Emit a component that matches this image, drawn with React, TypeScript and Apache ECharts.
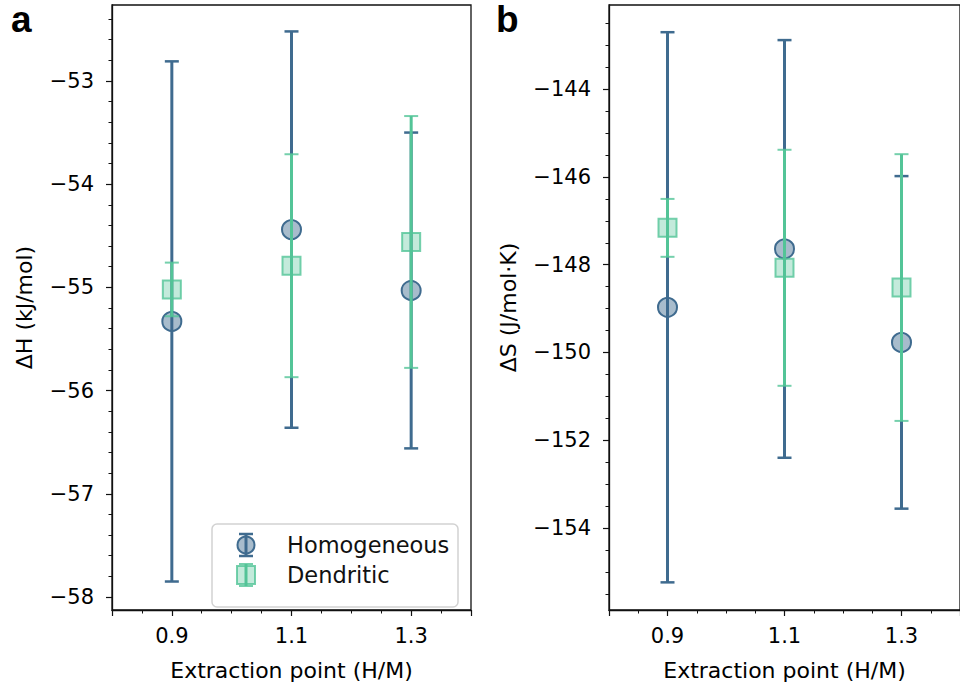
import React, { useEffect, useRef } from "react";
import * as echarts from "echarts";

// ---- data ----
const extraction = [0.9, 1.1, 1.3];
const dHHomogeneous = [-55.33, -54.44, -55.03];
const dHHomogeneousErr = [2.52, 1.92, 1.53];
const dHDendritic = [-55.02, -54.79, -54.56];
const dHDendriticErr = [0.26, 1.08, 1.22];
const dSHomogeneous = [-148.97, -147.64, -149.77];
const dSHomogeneousErr = [6.27, 4.76, 3.79];
const dSDendritic = [-147.16, -148.07, -148.52];
const dSDendriticErr = [0.66, 2.69, 3.04];

// ---- ticks ----
const xLabelTicks = [0.9, 1.1, 1.3];
const xMajorTicks = [0.8, 0.9, 1.1, 1.3, 1.4];
const dHMajorTicks = [-58, -57, -56, -55, -54, -53];
const dSMajorTicks = [-154, -152, -150, -148, -146, -144];

const X_RANGE = [0.8, 1.4];
const DH_RANGE = [-58.126, -52.264];
const DS_RANGE = [-155.87, -142.08];

const BLUE = "#3f6b8f";
const GREEN = "#53c497";
const FONT = "DejaVu Sans";

function stepTicks(lo: number, hi: number, step: number): number[] {
  const out: number[] = [];
  const start = Math.ceil(lo / step - 1e-9);
  const end = Math.floor(hi / step + 1e-9);
  for (let k = start; k <= end; k++) out.push(Math.round(k * step * 1000) / 1000);
  return out;
}

const fmt = (v: number) => (v < 0 ? "\u2212" + String(Math.abs(v)) : String(v));

function errRender(color: string, lw: number, capColor: string, capW: number) {
  return (params: any, api: any) => {
    const x = api.value(0);
    const y = api.value(1);
    const e = api.value(2);
    const t = api.coord([x, y + e]);
    const b = api.coord([x, y - e]);
    const hw = 7;
    return {
      type: "group",
      children: [
        { type: "line", shape: { x1: t[0], y1: t[1], x2: b[0], y2: b[1] }, style: { stroke: color, lineWidth: lw } },
        { type: "line", shape: { x1: t[0] - hw, y1: t[1], x2: t[0] + hw, y2: t[1] }, style: { stroke: capColor, lineWidth: capW } },
        { type: "line", shape: { x1: b[0] - hw, y1: b[1], x2: b[0] + hw, y2: b[1] }, style: { stroke: capColor, lineWidth: capW } },
      ],
    };
  };
}

function panelSeries(gridAxis: number, homo: number[], homoErr: number[], den: number[], denErr: number[]) {
  return [
    {
      type: "custom",
      name: "Homogeneous",
      xAxisIndex: gridAxis,
      yAxisIndex: gridAxis,
      renderItem: errRender(BLUE, 3, BLUE, 2.5),
      encode: { x: 0, y: 1 },
      data: extraction.map((x, i) => [x, homo[i], homoErr[i]]),
      z: 2,
    },
    {
      type: "scatter",
      name: "Homogeneous",
      xAxisIndex: gridAxis,
      yAxisIndex: gridAxis,
      symbol: "circle",
      symbolSize: 19,
      itemStyle: { color: "rgba(63,107,143,0.45)", borderColor: BLUE, borderWidth: 2, opacity: 1 },
      data: extraction.map((x, i) => [x, homo[i]]),
      z: 3,
    },
    {
      type: "custom",
      name: "Dendritic",
      xAxisIndex: gridAxis,
      yAxisIndex: gridAxis,
      renderItem: errRender(GREEN, 3, "rgba(83,196,151,0.8)", 2),
      encode: { x: 0, y: 1 },
      data: extraction.map((x, i) => [x, den[i], denErr[i]]),
      z: 4,
    },
    {
      type: "scatter",
      name: "Dendritic",
      xAxisIndex: gridAxis,
      yAxisIndex: gridAxis,
      symbol: "rect",
      symbolSize: 18,
      itemStyle: { color: "rgba(83,196,151,0.35)", borderColor: "rgba(83,196,151,0.8)", borderWidth: 2, opacity: 1 },
      data: extraction.map((x, i) => [x, den[i]]),
      z: 5,
    },
  ];
}

function majorX(gridIndex: number) {
  return {
    type: "value",
    gridIndex,
    min: X_RANGE[0],
    max: X_RANGE[1],
    name: "Extraction point (H/M)",
    nameLocation: "middle",
    nameGap: 49,
    nameTextStyle: { fontFamily: FONT, fontSize: 22, color: "#000" },
    axisLine: { show: true, lineStyle: { color: "#111", width: 1.3 } },
    axisTick: { show: true, customValues: xMajorTicks, length: 6, lineStyle: { color: "#111", width: 1.2 } },
    axisLabel: { show: true, customValues: xLabelTicks, formatter: fmt, margin: 15, fontFamily: FONT, fontSize: 21, color: "#000" },
    splitLine: { show: false },
  };
}
function minorX(gridIndex: number) {
  return {
    type: "value",
    gridIndex,
    min: X_RANGE[0],
    max: X_RANGE[1],
    axisLine: { show: false },
    axisTick: { show: true, customValues: stepTicks(X_RANGE[0], X_RANGE[1], 0.05), length: 3.5, lineStyle: { color: "#111", width: 1 } },
    axisLabel: { show: false },
    splitLine: { show: false },
  };
}
function majorY(gridIndex: number, range: number[], ticks: number[], name: string, nameGap: number) {
  return {
    type: "value",
    gridIndex,
    min: range[0],
    max: range[1],
    name,
    nameLocation: "middle",
    nameGap,
    nameTextStyle: { fontFamily: FONT, fontSize: 22, color: "#000" },
    axisLine: { show: true, lineStyle: { color: "#111", width: 1.3 } },
    axisTick: { show: true, customValues: ticks, length: 6, lineStyle: { color: "#111", width: 1.2 } },
    axisLabel: { show: true, customValues: ticks, formatter: fmt, margin: 18, fontFamily: FONT, fontSize: 21, color: "#000" },
    splitLine: { show: false },
  };
}
function minorY(gridIndex: number, range: number[], step: number) {
  return {
    type: "value",
    gridIndex,
    min: range[0],
    max: range[1],
    axisLine: { show: false },
    axisTick: { show: true, customValues: stepTicks(range[0], range[1], step), length: 3.5, lineStyle: { color: "#111", width: 1 } },
    axisLabel: { show: false },
    splitLine: { show: false },
  };
}

function legendGraphic() {
  const x0 = 212, y0 = 524, w = 246, h = 83;
  const ix = 246, r1 = 545, r2 = 575;
  return [
    {
      type: "group",
      z: 100,
      children: [
        { type: "rect", shape: { x: x0, y: y0, width: w, height: h, r: 5 }, style: { fill: "rgba(255,255,255,0.85)", stroke: "#d2d2d2", lineWidth: 1.5 } },
        { type: "line", shape: { x1: ix, y1: r1 - 11, x2: ix, y2: r1 + 11 }, style: { stroke: BLUE, lineWidth: 3 } },
        { type: "line", shape: { x1: ix - 7, y1: r1 - 11, x2: ix + 7, y2: r1 - 11 }, style: { stroke: BLUE, lineWidth: 2.5 } },
        { type: "line", shape: { x1: ix - 7, y1: r1 + 11, x2: ix + 7, y2: r1 + 11 }, style: { stroke: BLUE, lineWidth: 2.5 } },
        { type: "circle", shape: { cx: ix, cy: r1, r: 8.5 }, style: { fill: "rgba(63,107,143,0.45)", stroke: BLUE, lineWidth: 2 } },
        { type: "line", shape: { x1: ix, y1: r2 - 11, x2: ix, y2: r2 + 11 }, style: { stroke: GREEN, lineWidth: 3 } },
        { type: "line", shape: { x1: ix - 7, y1: r2 - 11, x2: ix + 7, y2: r2 - 11 }, style: { stroke: "rgba(83,196,151,0.8)", lineWidth: 2 } },
        { type: "line", shape: { x1: ix - 7, y1: r2 + 11, x2: ix + 7, y2: r2 + 11 }, style: { stroke: "rgba(83,196,151,0.8)", lineWidth: 2 } },
        { type: "rect", shape: { x: ix - 9, y: r2 - 9, width: 18, height: 18 }, style: { fill: "rgba(83,196,151,0.35)", stroke: "rgba(83,196,151,0.8)", lineWidth: 2 } },
        { type: "text", x: 287, y: r1, style: { text: "Homogeneous", fontFamily: FONT, fontSize: 22.5, fill: "#111", verticalAlign: "middle", align: "left" } },
        { type: "text", x: 287, y: r2, style: { text: "Dendritic", fontFamily: FONT, fontSize: 22.5, fill: "#111", verticalAlign: "middle", align: "left" } },
      ],
    },
    { type: "text", x: 11, y: 38, z: 100, style: { text: "a", fontFamily: "Liberation Sans", fontWeight: "bold", fontSize: 37, fill: "#000", verticalAlign: "bottom" } },
    { type: "text", x: 496, y: 38, z: 100, style: { text: "b", fontFamily: "Liberation Sans", fontWeight: "bold", fontSize: 37, fill: "#000", verticalAlign: "bottom" } },
  ];
}

export default function App() {
  const ref = useRef<HTMLDivElement>(null);
  useEffect(() => {
    if (!ref.current) return;
    const chart = echarts.init(ref.current, null, { renderer: "svg" });
    const gridA = { left: 112, top: 5, width: 359, height: 605 };
    const gridB = { left: 609, top: 5, width: 359, height: 605 };
    chart.setOption({
      animation: false,
      backgroundColor: "#fff",
      textStyle: { fontFamily: FONT },
      grid: [
        { ...gridA, show: true, borderColor: "#111", borderWidth: 1.3, backgroundColor: "transparent", containLabel: false },
        { ...gridA, show: false },
        { ...gridB, show: true, borderColor: "#111", borderWidth: 1.3, backgroundColor: "transparent", containLabel: false },
        { ...gridB, show: false },
      ],
      xAxis: [majorX(0), minorX(1), majorX(2), minorX(3)],
      yAxis: [
        majorY(0, DH_RANGE, dHMajorTicks, "\u0394H (kJ/mol)", 77),
        minorY(1, DH_RANGE, 0.2),
        majorY(2, DS_RANGE, dSMajorTicks, "\u0394S (J/mol\u00b7K)", 90),
        minorY(3, DS_RANGE, 0.5),
      ],
      series: [
        ...panelSeries(0, dHHomogeneous, dHHomogeneousErr, dHDendritic, dHDendriticErr),
        ...panelSeries(2, dSHomogeneous, dSHomogeneousErr, dSDendritic, dSDendriticErr),
      ],
      graphic: legendGraphic(),
    });
    return () => chart.dispose();
  }, []);
  return <div ref={ref} style={{ position: "absolute", left: 0, top: 0, width: 960, height: 686 }} />;
}
